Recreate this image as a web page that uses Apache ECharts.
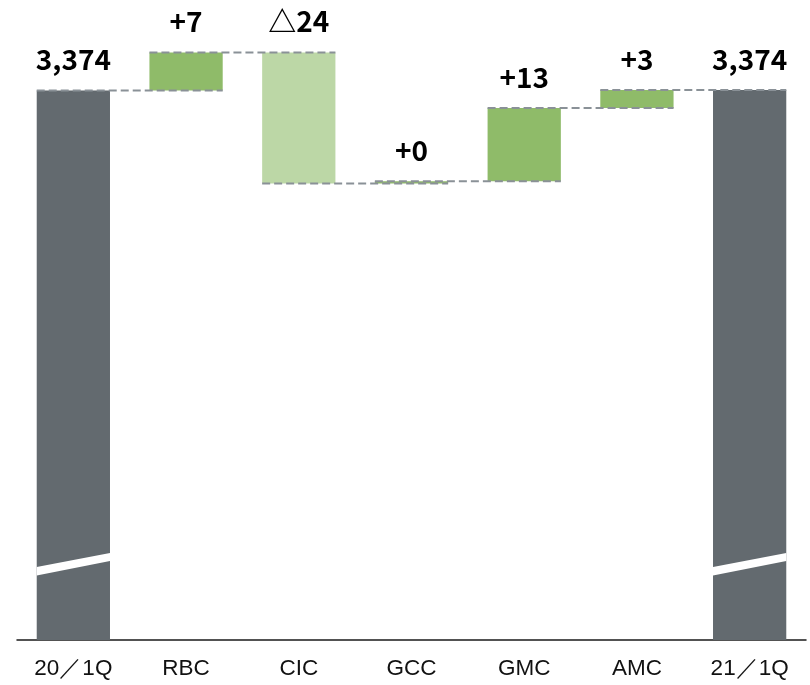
<!DOCTYPE html>
<html>
<head>
<meta charset="utf-8">
<script src="https://cdn.jsdelivr.net/npm/echarts@6.0.0/dist/echarts.min.js"></script>
<style>
html,body{margin:0;padding:0;background:#fff;}
#chart{width:810px;height:685px;}
</style>
</head>
<body>
<div id="chart"></div>
<script>
// ---- data ----
var categories = ['20／1Q', 'RBC', 'CIC', 'GCC', 'GMC', 'AMC', '21／1Q'];
var startTotal = 3373.6;
var endTotal = 3373.7;
var deltas = [6.9, -23.8, 0.4, 13.3, 3.3]; // RBC, CIC, GCC, GMC, AMC

// ---- derived series ----
var baseData = ['-'];
var barData = [{ value: startTotal, kind: 'total' }];
var levels = [startTotal];
var cum = startTotal;
deltas.forEach(function (d) {
  var lo = d >= 0 ? cum : cum + d;
  baseData.push(lo);
  barData.push({ value: Math.abs(d), delta: d, kind: d >= 0 ? 'up' : 'down' });
  cum += d;
  levels.push(cum);
});
baseData.push('-');
barData.push({ value: endTotal, kind: 'total' });

var colors = { total: '#636a6f', up: '#8fbb69', down: '#bcd7a6' };
barData.forEach(function (b) { b.itemStyle = { color: colors[b.kind] }; });

var connectorData = levels.map(function (lv, i) { return [i, lv]; });
var breakData = [[0, startTotal], [categories.length - 1, endTotal]];

function fmtLabel(p) {
  var d = barData[p.dataIndex];
  if (d.kind === 'total') return Math.round(d.value).toLocaleString('en-US');
  var v = Math.round(Math.abs(d.delta));
  return (d.delta >= 0 ? '+' : '△') + v;
}

var BAR_RATIO = 0.65;
var chart = echarts.init(document.getElementById('chart'));
chart.setOption({
  backgroundColor: '#fff',
  animation: false,
  grid: { left: 17, right: 4, top: 20, bottom: 45 },
  xAxis: {
    type: 'category',
    data: categories,
    axisLine: { lineStyle: { color: '#1a1a1a', width: 1.5 } },
    axisTick: { show: false },
    axisLabel: {
      margin: 17,
      fontSize: 22.5,
      color: '#111',
      fontFamily: '"Liberation Sans", Arial, sans-serif'
    }
  },
  yAxis: {
    type: 'value',
    show: false,
    min: 3273.8,
    max: 3386.4
  },
  series: [
    {
      type: 'bar',
      stack: 'wf',
      data: baseData,
      barWidth: (BAR_RATIO * 100) + '%',
      itemStyle: { color: 'transparent' },
      silent: true
    },
    {
      type: 'bar',
      stack: 'wf',
      data: barData,
      barWidth: (BAR_RATIO * 100) + '%',
      label: {
        show: true,
        position: 'top',
        distance: 17,
        formatter: fmtLabel,
        fontSize: 28,
        fontWeight: 'bold',
        color: '#000',
        fontFamily: '"Noto Sans CJK JP", sans-serif'
      }
    },
    {
      type: 'custom',
      z: 5,
      data: breakData,
      renderItem: function (params, api) {
        var c = api.coord([api.value(0), api.value(1)]);
        var w = api.size([1, 0])[0] * BAR_RATIO;
        var yb = params.coordSys.y + params.coordSys.height;
        var xl = c[0] - w / 2, xr = c[0] + w / 2;
        return {
          type: 'polygon',
          shape: { points: [[xl, yb - 73], [xr, yb - 87], [xr, yb - 79], [xl, yb - 64.5]] },
          style: { fill: '#ffffff' }
        };
      }
    },
    {
      type: 'custom',
      z: 6,
      data: connectorData,
      renderItem: function (params, api) {
        var i = api.value(0);
        var a = api.coord([i, api.value(1)]);
        var b = api.coord([i + 1, api.value(1)]);
        var w = api.size([1, 0])[0] * BAR_RATIO;
        return {
          type: 'line',
          shape: { x1: a[0] - w / 2, y1: a[1], x2: b[0] + w / 2, y2: b[1] },
          style: { stroke: '#8a9197', lineWidth: 2, lineDash: [8, 4] }
        };
      }
    }
  ]
});
</script>
</body>
</html>
